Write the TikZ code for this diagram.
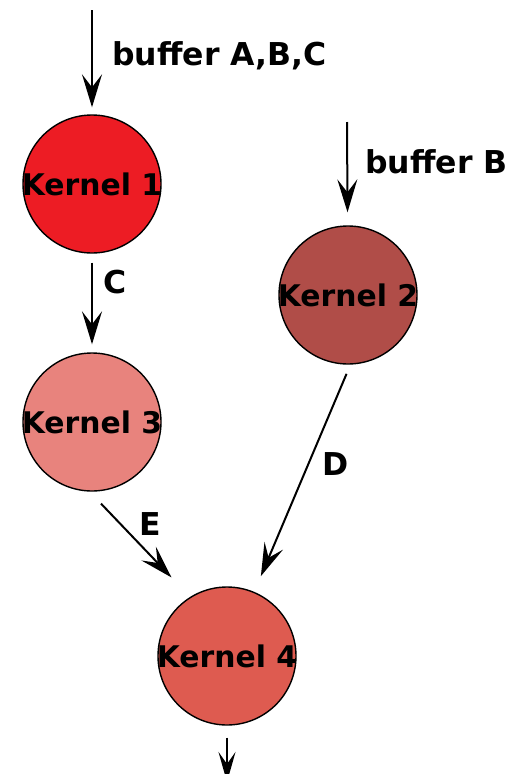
\documentclass[tikz,border=0pt]{standalone}
\usepackage{fontspec}
\setmainfont{DejaVu Sans}
\usetikzlibrary{arrows.meta}
\definecolor{kone}{HTML}{ED1C24}
\definecolor{ktwo}{HTML}{B04D48}
\definecolor{kthree}{HTML}{E8837D}
\definecolor{kfour}{HTML}{DE5B50}
\begin{document}
\begin{tikzpicture}[x=1pt,y=-1pt,
  kernel/.style={circle,draw=black,line width=1.4pt,minimum size=138pt,inner sep=0pt,
    label={[font=\fontsize{29.8}{36}\selectfont\bfseries,inner sep=0pt]center:#1}},
  flow/.style={line width=2pt,-{Stealth[length=33pt,width=20pt,inset=13pt]}},
  tag/.style={font=\fontsize{31.5}{38}\selectfont\bfseries,inner sep=0pt}]
\useasboundingbox (0,0) rectangle (510,774);
\clip (0,0) rectangle (510,774);
% kernels
\node[kernel=Kernel 1,fill=kone] (k1) at (92,184) {};
\node[kernel=Kernel 2,fill=ktwo] (k2) at (348,295) {};
\node[kernel=Kernel 3,fill=kthree] (k3) at (92,422) {};
\node[kernel=Kernel 4,fill=kfour] (k4) at (227,656) {};
% free ends of the input and output buffers
\coordinate (in1) at (92,10);
\coordinate (in2) at (347,122);
\coordinate (out) at (227,782);
% connectors
\draw[flow,shorten >=7pt] (in1) -- (k1);
\draw[flow,shorten >=13pt] (in2) -- (k2);
\draw[flow,shorten <=9pt,shorten >=8pt] (k1) -- (k3);
\draw[flow,shorten <=16.6pt,shorten >=26.9pt] (k3.-92) -- (k4.122);
\draw[flow,shorten <=10pt,shorten >=17pt] (k2.-88) -- (k4.67);
\draw[line width=2pt,-{Stealth[length=30pt,width=17pt,inset=12pt]},shorten <=12pt] (k4) -- (out);
% buffer labels
\node[tag,anchor=base west] (tabc) at (112,65) {buffer A,B,C};
\node[tag,anchor=base west] (tb) at (365,173) {buffer B};
\node[tag,anchor=base] (tc) at (115,293) {C};
\node[tag,anchor=base] (td) at (336,475) {D};
\node[tag,anchor=base] (te) at (150,535) {E};
\end{tikzpicture}
\end{document}
